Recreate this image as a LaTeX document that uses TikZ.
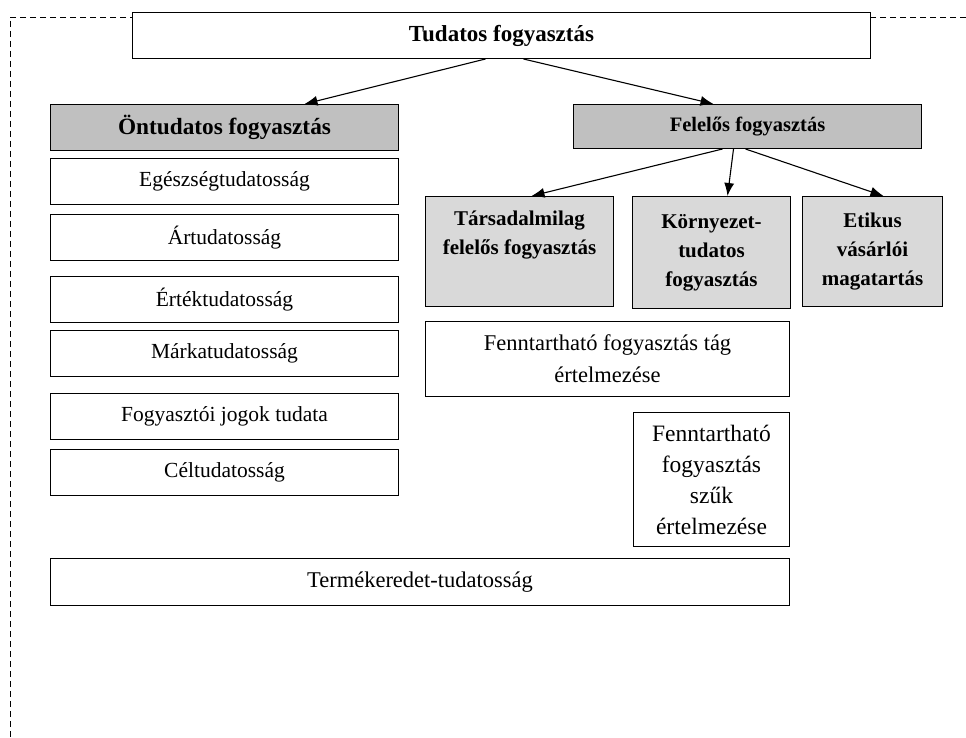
\documentclass[tikz,border=0pt]{standalone}
\usepackage{fontspec}
\setmainfont{Liberation Serif}
\usepackage{xcolor}
\usetikzlibrary{arrows.meta,positioning}
\definecolor{headgrey}{HTML}{C0C0C0}
\definecolor{subgrey}{HTML}{D9D9D9}

\begin{document}
\begin{tikzpicture}[x=1pt,y=-1pt,>={Latex[length=13pt,width=10pt]}]
  \tikzstyle{box}=[draw,line width=1pt,fill=white,align=center,inner sep=3pt,anchor=north west]
  \tikzstyle{listbox}=[box,minimum width=348,minimum height=46,font=\fontsize{21.5}{24}\selectfont]
  \tikzstyle{headbox}=[box,fill=headgrey,font=\fontsize{20.5}{24}\selectfont\bfseries]
  \tikzstyle{subbox}=[box,fill=subgrey,font=\fontsize{21}{29}\selectfont\bfseries]
  \tikzstyle{link}=[->,line width=1.1pt]
  \useasboundingbox (0,0) rectangle (966,738);
  \draw[line width=0.8pt,dash pattern=on 6pt off 4pt] (966,17) -- (10,17) -- (10,738);
  % top level
  \node[box,minimum width=738,minimum height=46,font=\fontsize{23}{26}\selectfont\bfseries] (tudatos) at (132,12) {Tudatos fogyasztás};
  \node[headbox,minimum width=348,minimum height=46,font=\fontsize{23.3}{26}\selectfont\bfseries] (ontudatos) at (50,104) {Öntudatos fogyasztás};
  \node[headbox,minimum width=348,minimum height=44] (felelos) at (573,104) {Felelős fogyasztás};
  % left column
  \node[listbox] (egeszseg) at (50,158) {Egészségtudatosság};
  \node[listbox] (ar) at (50,214) {Ártudatosság};
  \node[listbox] (ertek) at (50,276) {Értéktudatosság};
  \node[listbox] (marka) at (50,330) {Márkatudatosság};
  \node[listbox] (jogok) at (50,393) {Fogyasztói jogok tudata};
  \node[listbox] (cel) at (50,449) {Céltudatosság};
  % right side
  \node[subbox,minimum width=188,minimum height=110] (tarsadalmi) at (425,196) {Társadalmilag\\felelős fogyasztás\\\strut};
  \node[subbox,minimum width=158,minimum height=112] (kornyezet) at (632,196) {Környezet-\\tudatos\\fogyasztás};
  \node[subbox,minimum width=140,minimum height=110] (etikus) at (802,196) {Etikus\\vásárlói\\magatartás};
  \node[box,minimum width=364,minimum height=75,font=\fontsize{22.5}{32}\selectfont] (tag) at (425,321) {Fenntartható fogyasztás tág\\értelmezése};
  \node[box,minimum width=156,minimum height=134,font=\fontsize{23.5}{31}\selectfont] (szuk) at (633,412) {Fenntartható\\fogyasztás\\szűk\\értelmezése};
  \node[box,minimum width=739,minimum height=47,font=\fontsize{22.5}{24}\selectfont] (termek) at (50,558) {Termékeredet-tudatosság};
  % arrows
  \draw[link] ([xshift=-16]tudatos.south) -- ([xshift=80]ontudatos.north);
  \draw[link] ([xshift=22]tudatos.south) -- ([xshift=-34]felelos.north);
  \draw[link] ([xshift=-25]felelos.south) -- ([xshift=12]tarsadalmi.north);
  \draw[link] ([xshift=-14]felelos.south) -- ([xshift=16]kornyezet.north);
  \draw[link] ([xshift=-2]felelos.south) -- ([xshift=11]etikus.north);
\end{tikzpicture}
\end{document}
